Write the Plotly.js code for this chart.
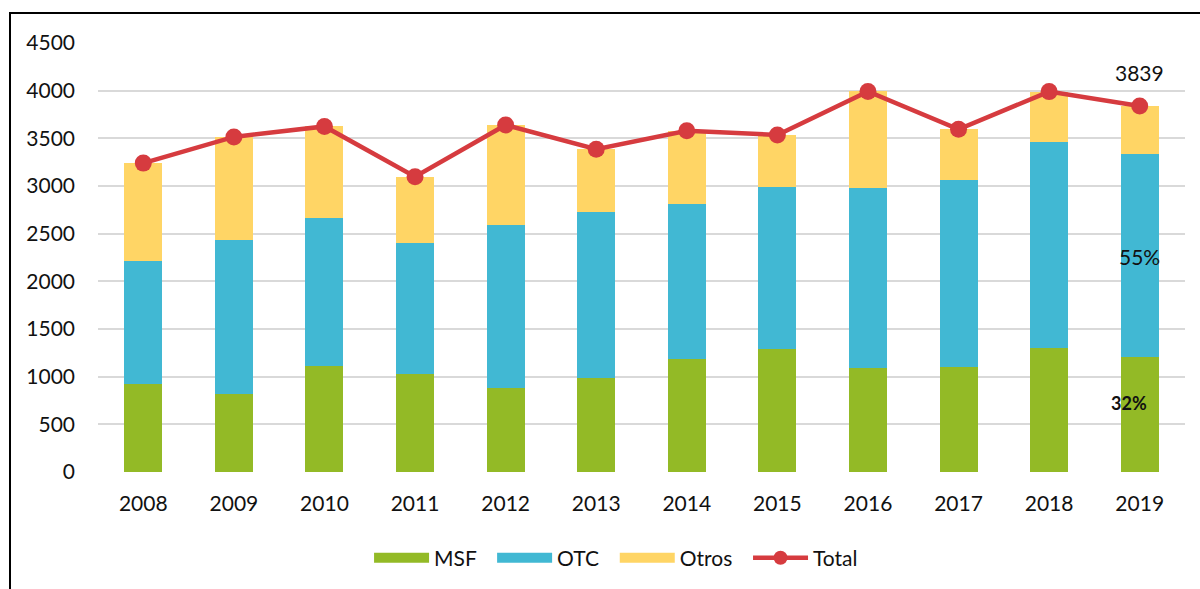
<!DOCTYPE html>
<html>
<head>
<meta charset="utf-8">
<script src="https://cdn.plot.ly/plotly-3.0.1.min.js"></script>
<style>
  html, body { margin: 0; padding: 0; background: #fff; }
  #frame { position: absolute; left: 9px; top: 12px; width: 1191px; height: 577px;
           border-left: 2px solid #000; border-top: 2px solid #000; box-sizing: border-box; }
  #chart { position: absolute; left: 0; top: 0; width: 1200px; height: 589px; }
</style>
</head>
<body>
<div id="frame"></div>
<div id="chart"></div>
<script>
const years = ['2008','2009','2010','2011','2012','2013','2014','2015','2016','2017','2018','2019'];
const msf   = [925, 820, 1110, 1030, 880, 990, 1190, 1290, 1090, 1100, 1305, 1210];
const otc   = [1285, 1610, 1555, 1370, 1715, 1740, 1620, 1695, 1890, 1960, 2160, 2130];
const otros = [1030, 1085, 960, 697, 1045, 656, 770, 550, 1012, 535, 525, 499];
const total = [3240, 3515, 3625, 3097, 3640, 3386, 3580, 3535, 3992, 3595, 3990, 3839];
const yTicks = [0, 500, 1000, 1500, 2000, 2500, 3000, 3500, 4000, 4500];
const colors = { MSF: '#93BA26', OTC: '#41B8D3', Otros: '#FFD565', Total: '#D63B3F' };

const font = 'Lato, "Open Sans", sans-serif';
const last = years.length - 1;
const pad = '&nbsp;&nbsp;';
const traces = [
  { type: 'bar', name: 'MSF', x: years, y: msf, marker: { color: colors.MSF }, showlegend: false },
  { type: 'bar', name: 'OTC', x: years, y: otc, marker: { color: colors.OTC }, showlegend: false },
  { type: 'bar', name: 'Otros', x: years, y: otros, marker: { color: colors.Otros }, showlegend: false },
  { type: 'scatter', mode: 'lines+markers', name: 'Total', x: years, y: total,
    line: { color: colors.Total, width: 4.5 }, marker: { color: colors.Total, size: 17 }, showlegend: false },
  // legend entries
  { type: 'scatter', mode: 'lines', name: 'MSF' + pad, x: [null], y: [null], line: { color: colors.MSF, width: 15 } },
  { type: 'scatter', mode: 'lines', name: 'OTC' + pad, x: [null], y: [null], line: { color: colors.OTC, width: 15 } },
  { type: 'scatter', mode: 'lines', name: 'Otros' + pad, x: [null], y: [null], line: { color: colors.Otros, width: 15 } },
  { type: 'scatter', mode: 'lines+markers', name: 'Total', x: [null], y: [null],
    line: { color: colors.Total, width: 4.5 }, marker: { color: colors.Total, size: 14 } }
];

const layout = {
  width: 1200, height: 589,
  paper_bgcolor: 'rgba(0,0,0,0)', plot_bgcolor: 'rgba(0,0,0,0)',
  margin: { l: 98, r: 15, t: 43, b: 116 },
  barmode: 'stack', bargap: 0.58,
  font: { family: font, size: 21, color: '#111' },
  xaxis: { type: 'category', categoryorder: 'array', categoryarray: years,
           range: [-0.5, last + 0.5], showgrid: false, zeroline: false, showline: false,
           ticks: '', ticklabelstandoff: 17, tickfont: { size: 21 } },
  yaxis: { range: [0, 4500], tickvals: yTicks, ticktext: yTicks.map(String),
           showgrid: true, gridcolor: '#D9D9D9', gridwidth: 2, zeroline: false,
           showline: false, ticks: '', ticklabelstandoff: 22, tickfont: { size: 21 } },
  showlegend: true,
  legend: { orientation: 'h', x: 0.4766, xanchor: 'center', y: -0.198, yanchor: 'middle',
            font: { size: 21 }, traceorder: 'normal', itemwidth: 55 },
  annotations: [
    { x: last, y: total[last], yshift: 34, text: String(total[last]), showarrow: false,
      font: { size: 21, color: '#111' } },
    { x: last, y: 2260, text: '55%', showarrow: false,
      font: { size: 21, color: '#111' } },
    { x: last, y: 720, xshift: -11, text: '<b>32%</b>', showarrow: false,
      font: { size: 18, color: '#111' } }
  ]
};

Plotly.newPlot('chart', traces, layout, { displayModeBar: false, staticPlot: true });
</script>
</body>
</html>
